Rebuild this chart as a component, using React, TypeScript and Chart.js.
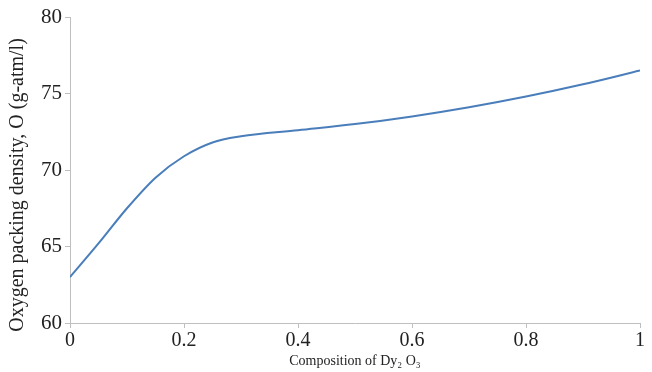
import React, { useEffect, useRef } from "react";
import { Chart, registerables } from "chart.js";

Chart.register(...registerables);

const compositions = [0, 0.05, 0.1, 0.15, 0.2, 0.25, 0.3, 0.4, 0.5, 0.6, 0.7, 0.8, 0.9, 1.0];
const oxygenDensity = [63.0, 65.2, 67.5, 69.5, 70.9, 71.8, 72.2, 72.6, 73.0, 73.5, 74.1, 74.8, 75.6, 76.5];
const xTickLabels = ["0", "0.2", "0.4", "0.6", "0.8", "1"];
const yTitle = "Oxygen packing density, O (g-atm/l)";
const xTitle = "Composition of Dy\u2082 O\u2083";

const FONT = "'Liberation Serif', 'Times New Roman', serif";

export default function App() {
  const ref = useRef<HTMLCanvasElement | null>(null);

  useEffect(() => {
    document.body.style.margin = "0";
    const canvas = ref.current;
    if (!canvas) return;

    const titlesPlugin = {
      id: "axisTitles",
      afterDraw(chart: any) {
        const ctx = chart.ctx;
        const area = chart.chartArea;
        ctx.save();
        ctx.fillStyle = "#222";
        ctx.font = `20px ${FONT}`;
        ctx.textAlign = "center";
        ctx.textBaseline = "middle";
        ctx.translate(18, 185);
        ctx.rotate(-Math.PI / 2);
        ctx.fillText(yTitle, 0, 0);
        ctx.restore();

        ctx.save();
        ctx.fillStyle = "#222";
        ctx.font = `14px ${FONT}`;
        ctx.textAlign = "center";
        ctx.textBaseline = "middle";
        ctx.fillText(xTitle, (area.left + area.right) / 2, 361);
        ctx.restore();
      },
    };

    const chart = new Chart(canvas, {
      type: "line",
      data: {
        datasets: [
          {
            data: compositions.map((x, i) => ({ x, y: oxygenDensity[i] })),
            borderColor: "#4a7ebb",
            borderWidth: 2,
            pointRadius: 0,
            fill: false,
            cubicInterpolationMode: "monotone",
          },
        ],
      },
      options: {
        animation: false,
        responsive: false,
        maintainAspectRatio: false,
        layout: { padding: { top: 17, right: 12, left: 0, bottom: 0 } },
        plugins: { legend: { display: false }, tooltip: { enabled: false } },
        scales: {
          x: {
            type: "linear",
            min: 0,
            max: 1,
            ticks: {
              stepSize: 0.2,
              color: "#222",
              font: { family: FONT, size: 20 },
              padding: 1,
              maxRotation: 0,
              callback: (_v: any, i: number) => xTickLabels[i] ?? "",
            },
            grid: { drawOnChartArea: false, drawTicks: true, tickLength: 5, color: "#bfbfbf" },
            border: { color: "#bfbfbf", width: 1 },
            afterFit: (s: any) => { s.height = 49; },
          },
          y: {
            min: 60,
            max: 80,
            ticks: { stepSize: 5, color: "#222", font: { family: FONT, size: 21 }, padding: 3 },
            grid: { drawOnChartArea: false, drawTicks: true, tickLength: 5, color: "#bfbfbf" },
            border: { color: "#bfbfbf", width: 1 },
            afterFit: (s: any) => { s.width = 70; },
          },
        },
      },
      plugins: [titlesPlugin],
    } as any);

    return () => chart.destroy();
  }, []);

  return (
    <div style={{ position: "relative", width: 652, height: 372, background: "#fff" }}>
      <canvas ref={ref} width={652} height={372} style={{ display: "block" }} />
    </div>
  );
}
